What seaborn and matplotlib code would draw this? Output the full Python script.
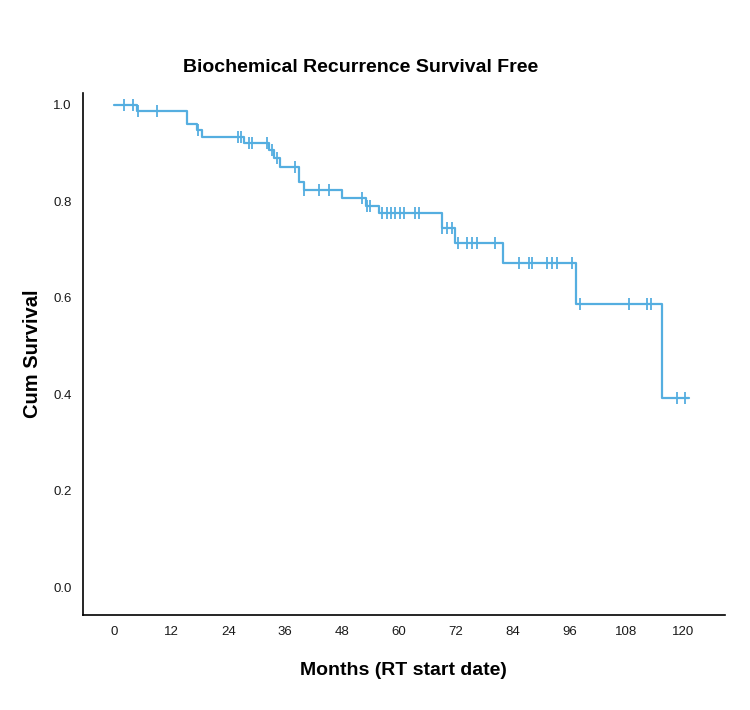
import numpy as np
import pandas as pd
import matplotlib
matplotlib.use("Agg")
import matplotlib.pyplot as plt
import seaborn as sns

# ---- data ----
step_times = [0.0, 4.8, 15.2, 17.4, 18.5, 27.3, 32.6, 33.6, 35.0, 38.9, 39.9,
              48.0, 53.0, 55.8, 69.1, 71.9, 82.1, 97.3, 115.5]
step_surv = [1.0, 0.987, 0.959, 0.947, 0.933, 0.920, 0.906, 0.889, 0.871, 0.840,
             0.823, 0.806, 0.790, 0.775, 0.744, 0.714, 0.671, 0.587, 0.392]
end_time = 121.2
censor_times = [2.0, 3.9, 4.9, 9.0, 17.7, 26.0, 26.7, 28.3, 29.0, 32.2, 33.3,
                34.3, 38.2, 40.0, 43.1, 45.2, 52.3, 53.3, 54.0, 56.5, 57.5, 58.4,
                59.3, 60.2, 61.2, 63.5, 64.3, 69.2, 70.2, 71.2, 72.6, 74.4, 75.5,
                76.5, 80.4, 85.3, 87.4, 88.1, 91.3, 92.3, 93.4, 96.6, 98.3, 108.5,
                112.4, 113.3, 118.7, 120.5]
x_ticks = [0, 12, 24, 36, 48, 60, 72, 84, 96, 108, 120]
y_ticks = [0.0, 0.2, 0.4, 0.6, 0.8, 1.0]

title = "Biochemical Recurrence Survival Free"
xlabel = "Months (RT start date)"
ylabel = "Cum Survival"

# ---- tables ----
curve = pd.DataFrame({"t": step_times + [end_time],
                      "s": step_surv + [step_surv[-1]]})
idx = np.searchsorted(np.array(step_times), np.array(censor_times), side="right") - 1
cens = pd.DataFrame({"t": censor_times, "s": np.array(step_surv)[idx]})

sns.set_theme(style="white")
plt.rcParams["font.family"] = ["Liberation Sans", "DejaVu Sans"]
plt.rcParams["text.color"] = "black"
plt.rcParams["axes.labelcolor"] = "black"

color = "#55AEE0"
fig = plt.figure(figsize=(7.5, 7.1), dpi=100)
ax = fig.add_axes([0.110, 0.134, 0.857, 0.735])

sns.lineplot(data=curve, x="t", y="s", ax=ax, drawstyle="steps-post",
             estimator=None, color=color, linewidth=1.6)
sns.scatterplot(data=cens, x="t", y="s", ax=ax, marker="|", s=70,
                color=color, linewidth=1.3, zorder=3)

ax.set_xlim(-6.75, 128.9)
ax.set_ylim(-0.057, 1.024)
ax.set_xticks(x_ticks)
ax.set_xticklabels([str(v) for v in x_ticks])
ax.set_yticks(y_ticks)
ax.set_yticklabels([f"{v:.1f}" for v in y_ticks])
ax.tick_params(axis="both", length=0, labelsize=9.5, colors="#1a1a1a")
ax.tick_params(axis="y", pad=8)
ax.tick_params(axis="x", pad=8)

for side in ["top", "right"]:
    ax.spines[side].set_visible(False)
for side in ["left", "bottom"]:
    ax.spines[side].set_color("black")
    ax.spines[side].set_linewidth(1.2)

ax.set_title(title, fontsize=14, fontweight="bold", pad=15, x=0.432, color="black")
ax.set_xlabel(xlabel, fontsize=14, fontweight="bold", labelpad=17)
ax.set_ylabel(ylabel, fontsize=14.5, fontweight="bold", labelpad=8)
ax.grid(False)

fig.savefig("out.png", dpi=100, facecolor="white")
